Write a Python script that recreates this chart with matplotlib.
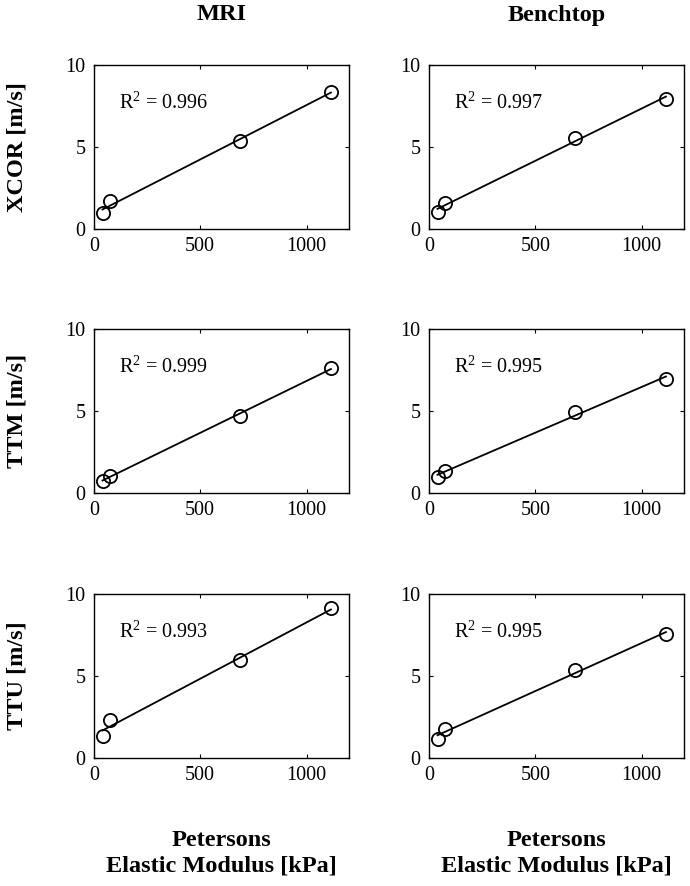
#!/usr/bin/env python
import numpy as np
import matplotlib
matplotlib.use('Agg')
import matplotlib.pyplot as plt

# elastic modulus of the phantoms [kPa], same for every panel
modulus = [40, 75, 685, 1115]

methods = ['XCOR', 'TTM', 'TTU']
setups  = ['MRI', 'Benchtop']

# shear wave speed [m/s], rows = method, cols = setup
speed = {
  ('XCOR', 'MRI'):      [0.96, 1.70, 5.37, 8.37],
  ('XCOR', 'Benchtop'): [1.02, 1.57, 5.57, 7.93],
  ('TTM', 'MRI'):       [0.75, 1.05, 4.70, 7.64],
  ('TTM', 'Benchtop'):  [0.96, 1.36, 4.96, 6.95],
  ('TTU', 'MRI'):       [1.35, 2.32, 5.96, 9.13],
  ('TTU', 'Benchtop'):  [1.15, 1.76, 5.35, 7.56],
}
r2 = {
  ('XCOR', 'MRI'): '0.996', ('XCOR', 'Benchtop'): '0.997',
  ('TTM', 'MRI'):  '0.999', ('TTM', 'Benchtop'):  '0.995',
  ('TTU', 'MRI'):  '0.993', ('TTU', 'Benchtop'):  '0.995',
}

plt.rcParams['font.family'] = ['Liberation Serif', 'DejaVu Serif']
plt.rcParams['mathtext.fontset'] = 'custom'
plt.rcParams['mathtext.rm'] = 'Liberation Serif'
plt.rcParams['mathtext.it'] = 'Liberation Serif:italic'

fig = plt.figure(figsize=(6.9, 8.86), dpi=100)
W, H = 690., 886.
lefts = [94, 429]
tops  = [65, 329, 594]
aw, ah = 255, 164
lab_fs = 17.5
tick_fs = 14.5

x = np.array(modulus, dtype=float)
for irow, meth in enumerate(methods):
  for icol, setup in enumerate(setups):
    ax = fig.add_axes([lefts[icol]/W, 1 - (tops[irow]+ah)/H, aw/W, ah/H])
    y = np.array(speed[(meth, setup)])
    p = np.polyfit(x, y, 1)
    xf = np.array([x.min(), x.max()])
    ax.plot(xf, np.polyval(p, xf), color='k', lw=1.3)
    ax.plot(x, y, 'o', mfc='none', mec='k', ms=9.5, mew=1.3)
    ax.set_xlim(0, 1200)
    ax.set_ylim(0, 10)
    ax.set_xticks([0, 500, 1000])
    ax.set_yticks([0, 5, 10])
    ax.tick_params(direction='in', top=True, right=True, length=3,
                   labelsize=tick_fs, pad=6)
    for sp in ax.spines.values():
      sp.set_linewidth(1.0)
    ax.text(118, 7.7, r'R$^2$ = ' + r2[(meth, setup)], fontsize=tick_fs,
            va='center', ha='left')
    if irow == 0:
      fig.text((lefts[icol] + aw/2)/W, 1 - 15/H, setup, fontsize=lab_fs,
               fontweight='bold', ha='center', va='center')
    if icol == 0:
      fig.text(17/W, 1 - (tops[irow] + ah/2)/H, meth + ' [m/s]',
               fontsize=lab_fs, fontweight='bold', rotation=90,
               ha='center', va='center')
    if irow == 2:
      fig.text((lefts[icol] + aw/2)/W, 1 - 853/H,
               'Petersons\nElastic Modulus [kPa]', fontsize=lab_fs,
               fontweight='bold', ha='center', va='center', linespacing=1.3)

fig.savefig('out.png', dpi=100)
